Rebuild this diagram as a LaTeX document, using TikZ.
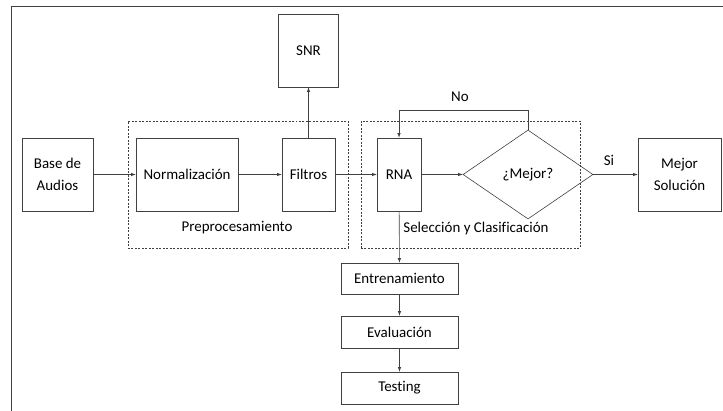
\documentclass[tikz,border=0pt]{standalone}
\usepackage{fontspec}
\setmainfont{Carlito}[Ligatures=NoCommon]
\usetikzlibrary{arrows,positioning,shapes.geometric}
\tikzset{blk/.style={draw=black!75,inner sep=0pt,align=center},
  grp/.style={draw=black!75,dash pattern=on 2pt off 1.5pt,inner sep=0pt}}

\begin{document}
\begin{tikzpicture}[x=1bp,y=-1bp,>=latex,font=\fontsize{15}{21.5}\selectfont,line width=0.6pt]
\useasboundingbox (0,0) rectangle (723,410);
\draw[black!75] (11,420)--(11,6)--(730,6);

\node[grp,minimum width=220bp,minimum height=127bp] (PRE) at (238,184.5) {};
\node[grp,minimum width=219bp,minimum height=127bp] (SEL) at (470.5,184.5) {};
\node (PREL) at (237,228) {Preprocesamiento};
\node (SELL) at (476,229) {Selección y Clasificación};

\node[blk,minimum width=71bp,minimum height=73bp] (BA) at (57.5,174.5) {Base de\\Audios};
\node[blk,minimum width=102bp,minimum height=73bp] (NOR) at ([shift={+(129.5,0)}]BA) {Normalización};
\node[blk,minimum width=53bp,minimum height=73bp] (FIL) at ([shift={+(121.5,0)}]NOR) {Filtros};
\node[blk,minimum width=60bp,minimum height=73bp] (SNR) at ([shift={+(0,-124)}]FIL) {SNR};
\node[blk,minimum width=44bp,minimum height=73bp] (RNA) at ([shift={+(90.5,0)}]FIL) {RNA};
\node[blk,diamond,minimum width=130bp,minimum height=89bp] (MEJ) at ([shift={+(129,0)}]RNA) {¿Mejor?};
\node[blk,minimum width=83bp,minimum height=73bp] (SOL) at ([shift={+(151.5,0)}]MEJ) {Mejor\\Solución};
\node[blk,minimum width=117bp,minimum height=31bp] (ENT) at ([shift={+(0.5,104)}]RNA) {Entrenamiento};
\node[blk,minimum width=117bp,minimum height=32bp] (EVA) at ([shift={+(0,53.5)}]ENT) {Evaluación};
\node[blk,minimum width=117bp,minimum height=32bp] (TES) at ([shift={+(0,56)}]EVA) {Testing};
\node (NO) at (460,97) {No};
\node (SI) at (609,160) {Si};

\draw[->,black!75] (BA)--(NOR);
\draw[->,black!75] (NOR)--(FIL);
\draw[->,black!75] (FIL)--(SNR);
\draw[->,black!75] (FIL)--(RNA);
\draw[->,black!75] (RNA)--(MEJ);
\draw[->,black!75] (MEJ.north)--++(0,-19)-|(RNA.north);
\draw[->,black!75] (MEJ.east)--(SOL);
\draw[->,black!75] (RNA)--(ENT);
\draw[->,black!75] (ENT)--(EVA);
\draw[->,black!75] (EVA)--(TES);
\end{tikzpicture}
\end{document}
